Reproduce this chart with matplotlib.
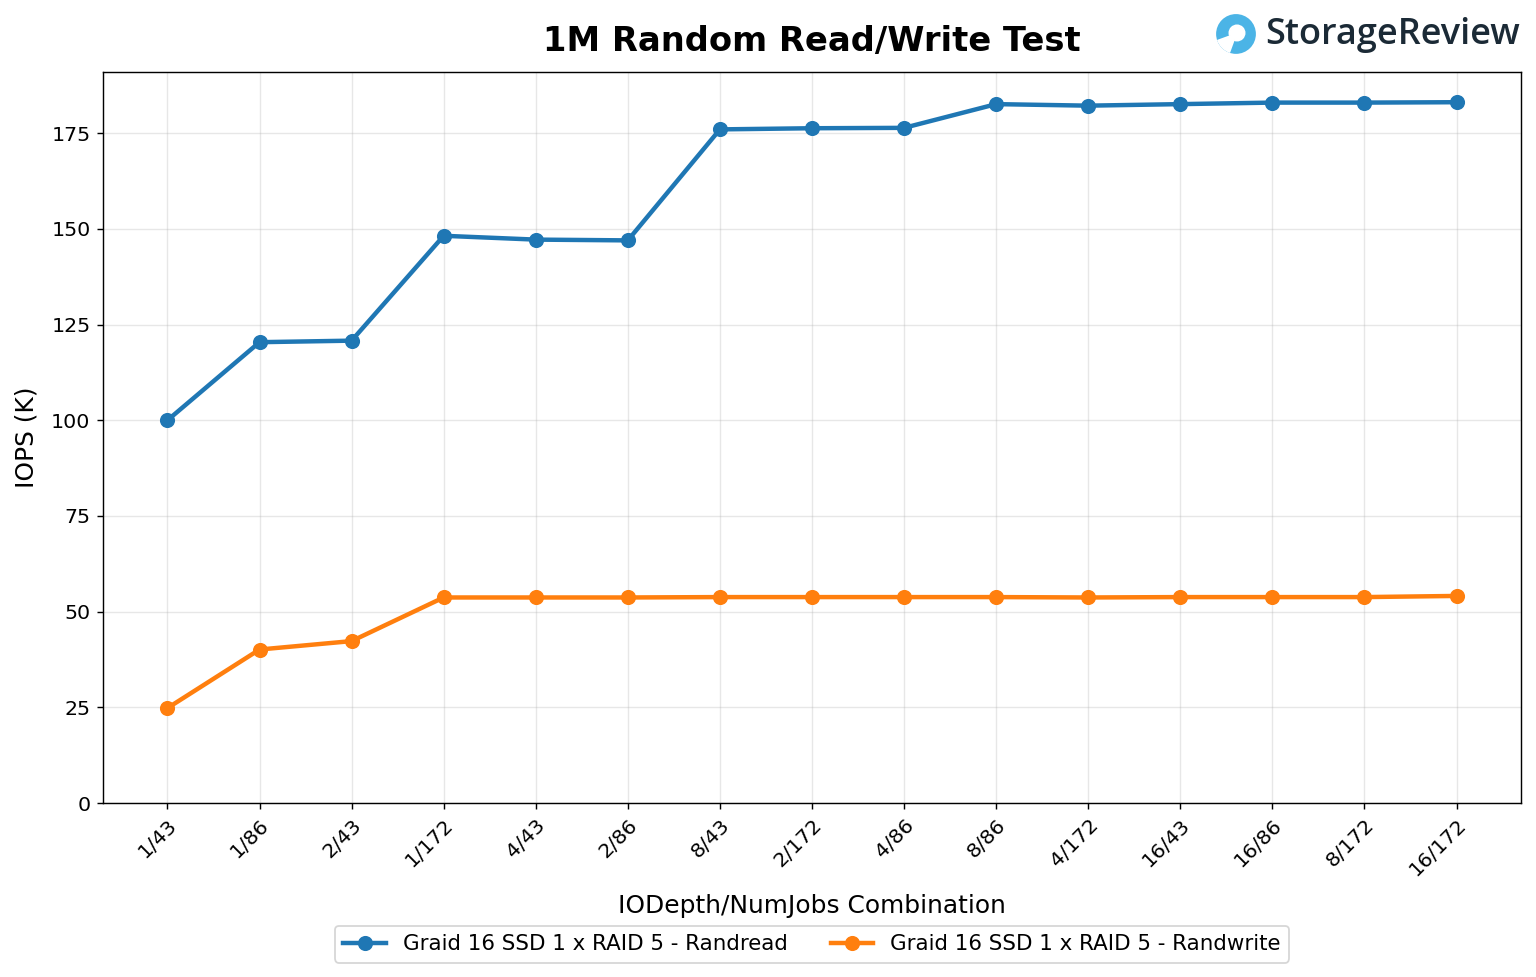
import matplotlib
matplotlib.use("Agg")
import matplotlib.pyplot as plt
from matplotlib.patches import Circle, Wedge

combos = ["1/43", "1/86", "2/43", "1/172", "4/43", "2/86", "8/43", "2/172",
          "4/86", "8/86", "4/172", "16/43", "16/86", "8/172", "16/172"]
randread = [100.0, 120.4, 120.8, 148.2, 147.2, 147.0, 176.0, 176.3,
            176.4, 182.6, 182.2, 182.6, 183.0, 183.0, 183.1]
randwrite = [24.8, 40.1, 42.3, 53.7, 53.7, 53.7, 53.8, 53.8,
             53.8, 53.8, 53.7, 53.8, 53.8, 53.8, 54.1]

fig = plt.figure(figsize=(12, 7.633), dpi=128)
ax = fig.add_axes([103 / 1536, 1 - 803 / 977, (1521 - 103) / 1536, (803 - 72) / 977])

x = range(len(combos))
ax.plot(x, randread, marker='o', color='#1f77b4', lw=2.5, ms=7.5,
        label="Graid 16 SSD 1 x RAID 5 - Randread")
ax.plot(x, randwrite, marker='o', color='#ff7f0e', lw=2.5, ms=7.5,
        label="Graid 16 SSD 1 x RAID 5 - Randwrite")

ax.set_xticks(list(x))
ax.set_xticklabels(combos, rotation=45, ha='right', rotation_mode='anchor')
ax.tick_params(labelsize=11.5)
ax.set_xlim(-0.7, len(combos) - 0.3)
ax.set_ylim(0, 191)
ax.set_yticks(range(0, 176, 25))
ax.grid(alpha=0.3)
ax.set_xlabel("IODepth/NumJobs Combination", fontsize=14, labelpad=8)
ax.set_ylabel("IOPS (K)", fontsize=14, labelpad=7)
ax.set_title("1M Random Read/Write Test", fontsize=19, fontweight='bold', pad=12)
ax.legend(loc='upper center', bbox_to_anchor=(0.5, -0.153), ncol=2, fontsize=12)

# logo
fig.text(1265 / 1536, 1 - 35 / 977, "StorageReview", fontsize=20.3, color='#1b2a36',
         va='center', ha='left', family='Open Sans', fontweight='semibold')
lx, ly = 1236 / 1536, 1 - 34 / 977
iax = fig.add_axes([lx - 20 / 1536, ly - 20 / 977, 40 / 1536, 40 / 977])
iax.set_aspect('equal')
iax.set_xlim(-1, 1)
iax.set_ylim(-1, 1)
iax.axis('off')
iax.add_patch(Circle((0, 0), 0.95, color='#4bb4e6'))
iax.add_patch(Circle((0.05, 0.05), 0.38, color='white'))
iax.add_patch(Wedge((0, 0), 0.95, 200, 250, color='white'))

plt.savefig("out.png", dpi=128)
